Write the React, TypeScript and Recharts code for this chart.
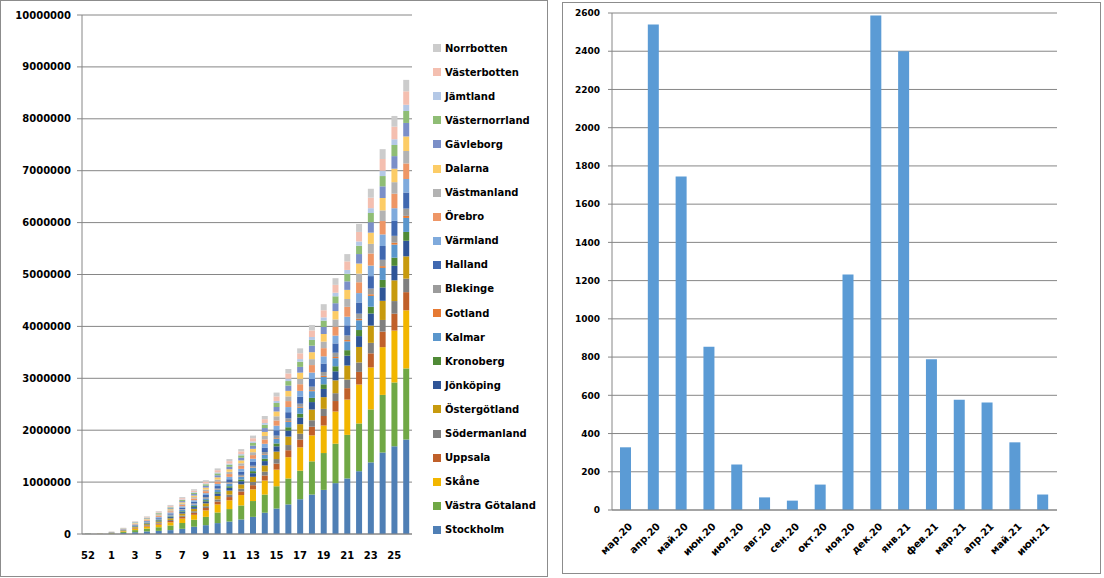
import { BarChart, Bar, XAxis, YAxis, CartesianGrid } from 'recharts';

const font = 'DejaVu Sans';
const gridColor = '#868686';
const borderColor = '#8c8c8c';

// week labels (2020 week 52, 53, then 2021 weeks 1..26)
const weeks = ['52', '53', '1', '2', '3', '4', '5', '6', '7', '8', '9', '10', '11', '12', '13', '14', '15', '16', '17', '18', '19', '20', '21', '22', '23', '24', '25', '26'];

// cumulative doses per region, thousands
const stockholm = [2, 1, 8, 20, 35, 50, 60, 75, 100, 140, 170, 210, 240, 280, 330, 410, 490, 570, 670, 760, 850, 980, 1070, 1210, 1380, 1570, 1690, 1820];
const vastraGotaland = [1, 1, 6, 22, 40, 55, 70, 88, 112, 135, 160, 205, 240, 270, 305, 350, 430, 500, 550, 640, 710, 760, 840, 920, 1020, 1110, 1230, 1370];
const skane = [1, 2, 4, 12, 28, 38, 50, 62, 85, 95, 125, 155, 170, 200, 225, 270, 320, 410, 450, 500, 530, 620, 680, 750, 810, 920, 1000, 1120];
const uppsala = [1, 0, 2, 5, 11, 16, 21, 26, 33, 39, 46, 55, 62, 70, 81, 98, 117, 134, 150, 167, 184, 202, 220, 243, 271, 300, 325, 350];
const sodermanland = [0, 1, 2, 4, 8, 12, 15, 20, 24, 29, 34, 41, 47, 52, 61, 73, 87, 100, 112, 125, 137, 151, 165, 182, 202, 224, 243, 260];
const ostergotland = [1, 1, 3, 6, 14, 19, 25, 32, 40, 48, 56, 67, 77, 85, 100, 120, 144, 164, 184, 206, 226, 248, 271, 299, 333, 369, 400, 430];
const jonkoping = [1, 0, 2, 4, 10, 13, 18, 23, 28, 33, 39, 47, 54, 60, 70, 84, 101, 115, 129, 144, 158, 174, 190, 209, 233, 258, 280, 300];
const kronoberg = [0, 0, 1, 3, 5, 7, 10, 13, 16, 19, 22, 26, 30, 33, 39, 47, 56, 64, 72, 81, 89, 97, 106, 117, 130, 144, 157, 170];
const kalmar = [1, 0, 2, 4, 9, 12, 16, 20, 25, 30, 35, 42, 48, 54, 63, 76, 90, 103, 116, 129, 142, 156, 170, 188, 209, 232, 251, 270];
const gotland = [0, 0, 0, 1, 1, 2, 2, 3, 4, 4, 5, 6, 7, 8, 9, 11, 13, 15, 17, 19, 21, 23, 25, 28, 31, 34, 37, 40];
const blekinge = [0, 0, 1, 2, 5, 6, 8, 11, 13, 16, 19, 22, 25, 28, 33, 40, 47, 54, 61, 68, 75, 82, 89, 99, 110, 122, 132, 140];
const halland = [1, 0, 2, 5, 10, 14, 18, 23, 29, 34, 41, 48, 55, 62, 72, 87, 104, 118, 133, 148, 163, 179, 195, 216, 240, 266, 288, 310];
const varmland = [1, 1, 2, 4, 9, 12, 16, 20, 25, 29, 35, 41, 46, 53, 62, 72, 88, 99, 113, 124, 138, 150, 166, 181, 203, 223, 244, 260];
const orebro = [0, 0, 2, 4, 10, 13, 18, 23, 28, 33, 39, 47, 54, 60, 70, 84, 101, 115, 129, 144, 158, 174, 190, 209, 233, 258, 280, 300];
const vastmanland = [0, 1, 1, 4, 8, 11, 14, 18, 22, 26, 31, 37, 43, 48, 56, 67, 80, 91, 103, 114, 126, 138, 151, 166, 185, 205, 222, 240];
const dalarna = [1, 0, 2, 4, 9, 12, 16, 21, 26, 31, 37, 43, 50, 55, 65, 78, 93, 106, 120, 134, 147, 161, 176, 194, 216, 239, 260, 280];
const gavleborg = [0, 0, 2, 4, 8, 11, 15, 19, 24, 28, 34, 40, 47, 51, 61, 74, 86, 101, 111, 126, 136, 152, 164, 183, 201, 225, 242, 260];
const vasternorrland = [1, 0, 1, 3, 7, 10, 14, 17, 21, 25, 30, 36, 41, 46, 54, 64, 77, 88, 99, 110, 121, 133, 145, 160, 178, 198, 214, 230];
const jamtland = [1, 0, 1, 2, 4, 5, 7, 9, 11, 13, 16, 19, 21, 24, 28, 33, 40, 46, 51, 57, 63, 69, 75, 83, 93, 103, 111, 120];
const vasterbotten = [0, 1, 2, 4, 8, 12, 15, 20, 24, 30, 34, 42, 47, 53, 61, 74, 87, 101, 112, 126, 137, 152, 165, 183, 202, 225, 243, 260];
const norrbotten = [1, 0, 1, 3, 7, 10, 13, 17, 21, 25, 29, 35, 40, 44, 51, 62, 74, 85, 95, 106, 117, 128, 140, 154, 172, 190, 206, 220];

// stacked bottom -> top
const regions = [
  { name: 'Stockholm', color: '#4f7fb5', values: stockholm },
  { name: 'Västra Götaland', color: '#70a845', values: vastraGotaland },
  { name: 'Skåne', color: '#f2b600', values: skane },
  { name: 'Uppsala', color: '#c0602a', values: uppsala },
  { name: 'Södermanland', color: '#7f7f7f', values: sodermanland },
  { name: 'Östergötland', color: '#c79a0e', values: ostergotland },
  { name: 'Jönköping', color: '#2f5597', values: jonkoping },
  { name: 'Kronoberg', color: '#4f8a36', values: kronoberg },
  { name: 'Kalmar', color: '#5a96cc', values: kalmar },
  { name: 'Gotland', color: '#e67a33', values: gotland },
  { name: 'Blekinge', color: '#9b9b9b', values: blekinge },
  { name: 'Halland', color: '#4068b0', values: halland },
  { name: 'Värmland', color: '#7faadc', values: varmland },
  { name: 'Örebro', color: '#ee9666', values: orebro },
  { name: 'Västmanland', color: '#b3b3b3', values: vastmanland },
  { name: 'Dalarna', color: '#fccc66', values: dalarna },
  { name: 'Gävleborg', color: '#7b8fc8', values: gavleborg },
  { name: 'Västernorrland', color: '#8fbd75', values: vasternorrland },
  { name: 'Jämtland', color: '#b4c8e6', values: jamtland },
  { name: 'Västerbotten', color: '#f4bfb0', values: vasterbotten },
  { name: 'Norrbotten', color: '#cccccc', values: norrbotten },
];

const leftTicks = [0, 1000000, 2000000, 3000000, 4000000, 5000000, 6000000, 7000000, 8000000, 9000000, 10000000];

// right chart
const months = ['мар.20', 'апр.20', 'май.20', 'июн.20', 'июл.20', 'авг.20', 'сен.20', 'окт.20', 'ноя.20', 'дек.20', 'янв.21', 'фев.21', 'мар.21', 'апр.21', 'май.21', 'июн.21'];
const monthValues = [328, 2540, 1745, 854, 238, 66, 49, 133, 1232, 2587, 2400, 788, 577, 563, 354, 81];
const rightTicks = [0, 200, 400, 600, 800, 1000, 1200, 1400, 1600, 1800, 2000, 2200, 2400, 2600];

const weekRows = weeks.map((week, i) => {
  const row: Record<string, string | number> = { week };
  regions.forEach((r) => {
    row[r.name] = r.values[i] * 1000;
  });
  return row;
});

const monthRows = months.map((month, i) => ({ month, value: monthValues[i] }));

const tickStyle = { fontSize: 10, fontWeight: 'bold', fill: '#000', fontFamily: font };

const MonthTick = ({ x, y, payload }: any) => (
  <g transform={`translate(${x + 2},${y}) rotate(-45)`}>
    <text textAnchor="end" dy="0.71em" fontSize={10} fontWeight="bold" fontFamily={font} fill="#000">
      {payload.value}
    </text>
  </g>
);

export default function App() {
  return (
    <div style={{ position: 'absolute', left: 0, top: 0, width: 1104, height: 578, background: '#fff', fontFamily: font }}>
      {/* Left: stacked weekly doses by region */}
      <div style={{ position: 'absolute', left: 0, top: 0, width: 548, height: 577, border: `1px solid ${borderColor}`, boxSizing: 'border-box' }}>
        <BarChart width={546} height={575} data={weekRows} margin={{ top: 14, right: 135, bottom: 12, left: 0 }} barSize={6}>
          <CartesianGrid vertical={false} stroke={gridColor} />
          <XAxis
            dataKey="week"
            height={30}
            interval={1}
            tick={tickStyle}
            tickLine={false}
            tickSize={6}
            tickMargin={12}
            axisLine={{ stroke: gridColor }}
          />
          <YAxis
            width={81}
            domain={[0, 10000000]}
            ticks={leftTicks}
            tick={tickStyle}
            tickSize={5}
            tickMargin={6}
            tickLine={{ stroke: gridColor }}
            axisLine={{ stroke: gridColor }}
          />
          {regions.map((r) => (
            <Bar key={r.name} dataKey={r.name} stackId="a" fill={r.color} isAnimationActive={false} />
          ))}
        </BarChart>
        <div style={{ position: 'absolute', left: 432, top: 35 }}>
          {[...regions].reverse().map((r) => (
            <div key={r.name} style={{ height: 24.1, display: 'flex', alignItems: 'center' }}>
              <span style={{ width: 8, height: 8, background: r.color, marginRight: 4, display: 'inline-block' }} />
              <span style={{ fontSize: 10, fontWeight: 'bold', color: '#000', whiteSpace: 'nowrap' }}>{r.name}</span>
            </div>
          ))}
        </div>
      </div>

      {/* Right: monthly values */}
      <div style={{ position: 'absolute', left: 562, top: 2, width: 539, height: 572, border: `1px solid ${borderColor}`, boxSizing: 'border-box' }}>
        <BarChart width={537} height={570} data={monthRows} margin={{ top: 10, right: 43, bottom: 33, left: 0 }} barSize={11}>
          <CartesianGrid vertical={false} stroke={gridColor} />
          <XAxis
            dataKey="month"
            height={30}
            interval={0}
            tick={<MonthTick />}
            tickLine={false}
            tickSize={5}
            tickMargin={7}
            axisLine={{ stroke: gridColor }}
          />
          <YAxis
            width={49}
            domain={[0, 2600]}
            ticks={rightTicks}
            tick={{ ...tickStyle, fontSize: 9 }}
            tickSize={4}
            tickMargin={8}
            tickLine={{ stroke: gridColor }}
            axisLine={{ stroke: gridColor }}
          />
          <Bar dataKey="value" fill="#5b9bd5" isAnimationActive={false} />
        </BarChart>
      </div>
    </div>
  );
}
